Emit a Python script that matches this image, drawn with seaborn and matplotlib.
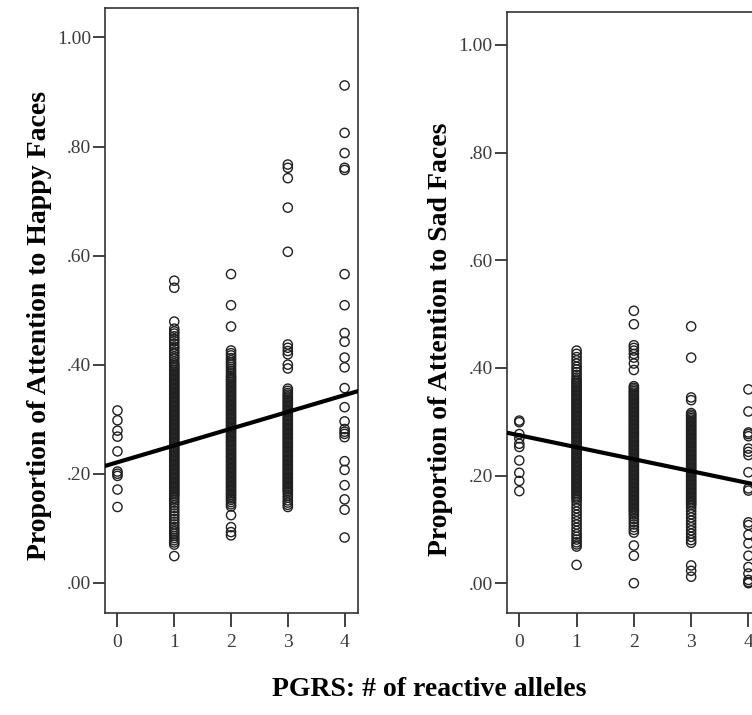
import pandas as pd
from matplotlib import pyplot as plt
import seaborn as sns

alleles = [0, 1, 2, 3, 4]
x_tick_labels = ['0', '1', '2', '3', '4']
y_ticks = [0.0, 0.2, 0.4, 0.6, 0.8, 1.0]
y_tick_labels = ['.00', '.20', '.40', '.60', '.80', '1.00']

# proportion of attention to happy faces, one list per number of reactive alleles
happy_0 = [0.316, 0.298, 0.279, 0.268, 0.241, 0.204, 0.200, 0.196, 0.171, 0.139]
happy_1 = [0.554, 0.541, 0.479, 0.466, 0.461, 0.457, 0.452, 0.447, 0.443, 0.438,
           0.433, 0.429, 0.424, 0.420, 0.415, 0.411, 0.406, 0.402,
           0.399, 0.396, 0.393, 0.390, 0.387, 0.384, 0.381, 0.378, 0.375, 0.372,
           0.369, 0.366, 0.363, 0.360, 0.357, 0.354, 0.351, 0.348, 0.345, 0.342,
           0.339, 0.336, 0.333, 0.330, 0.327, 0.324, 0.321, 0.318, 0.315, 0.312,
           0.309, 0.306, 0.303, 0.300, 0.297, 0.294, 0.291, 0.288, 0.285, 0.282,
           0.279, 0.276, 0.273, 0.270, 0.267, 0.264, 0.261, 0.258, 0.255, 0.252,
           0.249, 0.246, 0.243, 0.240, 0.237, 0.234, 0.231, 0.228, 0.225, 0.222,
           0.219, 0.216, 0.213, 0.210, 0.207, 0.204, 0.201, 0.198, 0.195, 0.192,
           0.189, 0.186, 0.183, 0.180, 0.177, 0.174, 0.171, 0.168, 0.165, 0.162,
           0.159, 0.155, 0.151, 0.147, 0.142, 0.137, 0.132, 0.127, 0.122, 0.117,
           0.112, 0.107, 0.102, 0.098, 0.094, 0.090, 0.086, 0.082, 0.078, 0.074,
           0.070, 0.049]
happy_2 = [0.566, 0.509, 0.470, 0.426, 0.421, 0.417, 0.412, 0.408, 0.404, 0.400,
           0.396, 0.392, 0.388, 0.384, 0.380,
           0.377, 0.374, 0.371, 0.368, 0.365, 0.362, 0.359, 0.356, 0.353, 0.350,
           0.347, 0.344, 0.341, 0.338, 0.335, 0.332, 0.329, 0.326, 0.323, 0.320,
           0.317, 0.314, 0.311, 0.308, 0.305, 0.302, 0.299, 0.296, 0.293, 0.290,
           0.287, 0.284, 0.281, 0.278, 0.275, 0.272, 0.269, 0.266, 0.263, 0.260,
           0.257, 0.254, 0.251, 0.248, 0.245, 0.242, 0.239, 0.236, 0.233, 0.230,
           0.227, 0.224, 0.221, 0.218, 0.215, 0.212, 0.209, 0.206, 0.203, 0.200,
           0.197, 0.194, 0.191, 0.188, 0.185, 0.182, 0.179, 0.176, 0.173, 0.170,
           0.167, 0.164, 0.161, 0.158, 0.155, 0.152, 0.148, 0.144, 0.140, 0.124,
           0.102, 0.093, 0.087]
happy_3 = [0.767, 0.761, 0.742, 0.688, 0.607, 0.437, 0.431, 0.425, 0.419, 0.400,
           0.393, 0.356, 0.352, 0.348,
           0.345, 0.342, 0.339, 0.336, 0.333, 0.330, 0.327, 0.324, 0.321, 0.318,
           0.315, 0.312, 0.309, 0.306, 0.303, 0.300, 0.297, 0.294, 0.291, 0.288,
           0.285, 0.282, 0.279, 0.276, 0.273, 0.270, 0.267, 0.264, 0.261, 0.258,
           0.255, 0.252, 0.249, 0.246, 0.243, 0.240, 0.237, 0.234, 0.231, 0.228,
           0.225, 0.222, 0.219, 0.216, 0.213, 0.210, 0.207, 0.204, 0.201, 0.198,
           0.195, 0.192, 0.189, 0.186, 0.183, 0.180, 0.177, 0.174, 0.171, 0.168,
           0.165, 0.160, 0.156, 0.151, 0.147, 0.143, 0.139]
happy_4 = [0.912, 0.825, 0.788, 0.761, 0.757, 0.566, 0.509, 0.458, 0.442, 0.413,
           0.395, 0.357, 0.322, 0.296, 0.282, 0.277, 0.273, 0.267, 0.223, 0.207,
           0.179, 0.153, 0.134, 0.083]

# proportion of attention to sad faces
sad_0 = [0.302, 0.299, 0.277, 0.269, 0.259, 0.253, 0.228, 0.205, 0.190, 0.171]
sad_1 = [0.432, 0.426, 0.420, 0.414, 0.408, 0.402, 0.397, 0.392, 0.387, 0.382,
         0.378,
         0.375, 0.372, 0.369, 0.366, 0.363, 0.360, 0.357, 0.354, 0.351, 0.348,
         0.345, 0.342, 0.339, 0.336, 0.333, 0.330, 0.327, 0.324, 0.321, 0.318,
         0.315, 0.312, 0.309, 0.306, 0.303, 0.300, 0.297, 0.294, 0.291, 0.288,
         0.285, 0.282, 0.279, 0.276, 0.273, 0.270, 0.267, 0.264, 0.261, 0.258,
         0.255, 0.252, 0.249, 0.246, 0.243, 0.240, 0.237, 0.234, 0.231, 0.228,
         0.225, 0.222, 0.219, 0.216, 0.213, 0.210, 0.207, 0.204, 0.201, 0.198,
         0.195, 0.192, 0.189, 0.186, 0.183, 0.180, 0.177, 0.174, 0.171, 0.168,
         0.165, 0.162, 0.159, 0.156, 0.151, 0.145, 0.139, 0.133, 0.127, 0.121,
         0.115, 0.109, 0.103, 0.097, 0.091, 0.086, 0.081, 0.076, 0.072, 0.068,
         0.034]
sad_2 = [0.506, 0.481, 0.442, 0.437, 0.432, 0.426, 0.419, 0.408, 0.396,
         0.366, 0.363, 0.360, 0.357, 0.354, 0.351, 0.348, 0.345, 0.342, 0.339,
         0.336, 0.333, 0.330, 0.327, 0.324, 0.321, 0.318, 0.315, 0.312, 0.309,
         0.306, 0.303, 0.300, 0.297, 0.294, 0.291, 0.288, 0.285, 0.282, 0.279,
         0.276, 0.273, 0.270, 0.267, 0.264, 0.261, 0.258, 0.255, 0.252, 0.249,
         0.246, 0.243, 0.240, 0.237, 0.234, 0.231, 0.228, 0.225, 0.222, 0.219,
         0.216, 0.213, 0.210, 0.207, 0.204, 0.201, 0.198, 0.195, 0.192, 0.189,
         0.186, 0.183, 0.180, 0.177, 0.174, 0.171, 0.168, 0.165, 0.162, 0.159,
         0.156, 0.153, 0.150, 0.147, 0.144, 0.141, 0.138, 0.135, 0.132, 0.128,
         0.124, 0.119, 0.114, 0.109, 0.104, 0.099, 0.094, 0.070, 0.051, 0.000]
sad_3 = [0.477, 0.419, 0.345, 0.340,
         0.316, 0.313, 0.310, 0.307, 0.304, 0.301, 0.298, 0.295, 0.292, 0.289,
         0.286, 0.283, 0.280, 0.277, 0.274, 0.271, 0.268, 0.265, 0.262, 0.259,
         0.256, 0.253, 0.250, 0.247, 0.244, 0.241, 0.238, 0.235, 0.232, 0.229,
         0.226, 0.223, 0.220, 0.217, 0.214, 0.211, 0.208, 0.205, 0.202, 0.199,
         0.196, 0.193, 0.190, 0.187, 0.184, 0.181, 0.178, 0.175, 0.172, 0.169,
         0.166, 0.163, 0.160, 0.157, 0.154, 0.151, 0.148, 0.145, 0.140, 0.134,
         0.128, 0.122, 0.116, 0.110, 0.104, 0.098, 0.092, 0.086, 0.080, 0.075,
         0.033, 0.023, 0.012]
sad_4 = [0.360, 0.319, 0.280, 0.277, 0.273, 0.250, 0.244, 0.238, 0.206, 0.176,
         0.172, 0.113, 0.108, 0.090, 0.074, 0.051, 0.030, 0.018, 0.006, 0.002,
         0.000]

# fitted lines (intercept, slope)
happy_fit = [0.221, 0.0308]
sad_fit = [0.2747, -0.0222]


def make_frame(groups):
    rows = []
    for a, vals in zip(alleles, groups):
        for v in vals:
            rows.append((a, v))
    return pd.DataFrame(rows, columns=['alleles', 'proportion'])


def draw_panel(ax, df, fit, ylabel, top, label_y):
    sns.scatterplot(data=df, x='alleles', y='proportion', ax=ax,
                    marker='o', s=44, linewidth=1.0, legend=False)
    ax.collections[0].set_facecolor('none')
    ax.collections[0].set_edgecolor('#202020')
    ax.axline((0, fit[0]), slope=fit[1], color='black', lw=3.0, zorder=5)
    ax.set_xlim(-0.22, 4.23)
    ax.set_ylim(-0.056, top)
    ax.set_xticks(alleles, labels=x_tick_labels)
    ax.set_yticks(y_ticks, labels=y_tick_labels)
    ax.tick_params(axis='both', direction='out', width=1.3, color='#333333',
                   labelsize=14, labelcolor='#3c3c3c',
                   labelfontfamily='Liberation Serif',
                   bottom=True, left=True)
    ax.tick_params(axis='y', length=9, pad=1)
    ax.tick_params(axis='x', length=10, pad=5)
    for sp in ax.spines.values():
        sp.set_visible(True)
        sp.set_color('#333333')
        sp.set_linewidth(1.2)
    ax.set_xlabel('')
    ax.set_ylabel(ylabel, family='Liberation Serif', weight='bold',
                  fontsize=20, color='black')
    ax.yaxis.set_label_coords(-0.210, label_y)


def execute_pd():
    happy = make_frame([happy_0, happy_1, happy_2, happy_3, happy_4])
    sad = make_frame([sad_0, sad_1, sad_2, sad_3, sad_4])

    sns.set_style('white')
    plt.rcParams['font.family'] = ['Liberation Serif', 'DejaVu Serif']

    fig = plt.figure(figsize=(7.52, 7.15), dpi=100)
    ax1 = fig.add_axes([0.1396, 0.1422, 0.336, 0.8466])
    ax2 = fig.add_axes([0.6738, 0.1422, 0.339, 0.841])

    draw_panel(ax1, happy, happy_fit, 'Proportion of Attention to Happy Faces',
               1.054, 0.476)
    draw_panel(ax2, sad, sad_fit, 'Proportion of Attention to Sad Faces',
               1.061, 0.456)

    fig.text(0.5705, 0.035, 'PGRS: # of reactive alleles', ha='center',
             va='center', family='Liberation Serif', weight='bold',
             fontsize=20, color='black')
    fig.savefig('out.png', dpi=100)


if __name__ == '__main__':
    execute_pd()
